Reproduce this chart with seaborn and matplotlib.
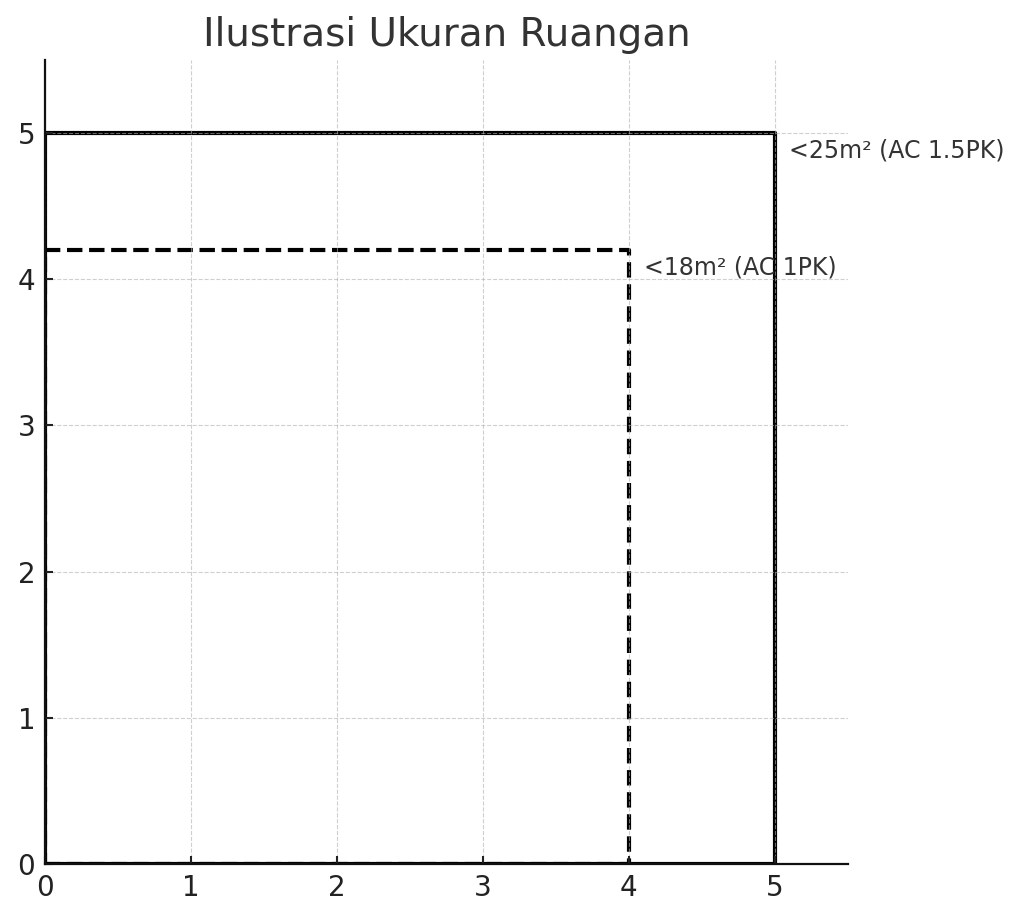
import numpy as np
import pandas as pd
import matplotlib
matplotlib.use("Agg")
import matplotlib.pyplot as plt
import seaborn as sns

# Data
room_widths = [5, 4]
room_heights = [5, 4.2]
room_labels = ["<25m² (AC 1.5PK)", "<18m² (AC 1PK)"]
room_styles = ["-", "--"]
x_ticks = [0, 1, 2, 3, 4, 5]
y_ticks = [0, 1, 2, 3, 4, 5]

sns.set_theme(style="ticks")
plt.rcParams["font.family"] = ["DejaVu Sans"]

fig = plt.figure(figsize=(10.24, 9.19), dpi=100)
ax = fig.add_axes([0.044, 0.0598, 0.784, 0.8749])

for w, h, lab, ls in zip(room_widths, room_heights, room_labels, room_styles):
    xs = [0, w, w, 0, 0]
    ys = [0, 0, h, h, 0]
    df = pd.DataFrame({"x": xs, "y": ys})
    sns.lineplot(data=df, x="x", y="y", sort=False, estimator=None, ax=ax,
                 color="black", linewidth=3.0, linestyle=ls, zorder=1)
    ax.text(w + 0.1, h - 0.12, lab, fontsize=17, color="#333333",
            ha="left", va="center")

ax.set_xlim(0, 5.5)
ax.set_ylim(0, 5.5)
ax.set_xticks(x_ticks)
ax.set_yticks(y_ticks)
ax.set_xlabel("")
ax.set_ylabel("")
ax.set_axisbelow("line")
ax.grid(True, linestyle="--", color="#b0b0b0", linewidth=0.8, alpha=0.6)
ax.tick_params(axis="both", direction="in", labelsize=20, colors="#222222",
               length=6, width=1.5, pad=7)
for s in ["top", "right"]:
    ax.spines[s].set_visible(False)
for s in ["left", "bottom"]:
    ax.spines[s].set_color("#111111")
    ax.spines[s].set_linewidth(1.6)
ax.set_title("Ilustrasi Ukuran Ruangan", fontsize=28, color="#333333", pad=10)

fig.savefig("out.png", dpi=100)
